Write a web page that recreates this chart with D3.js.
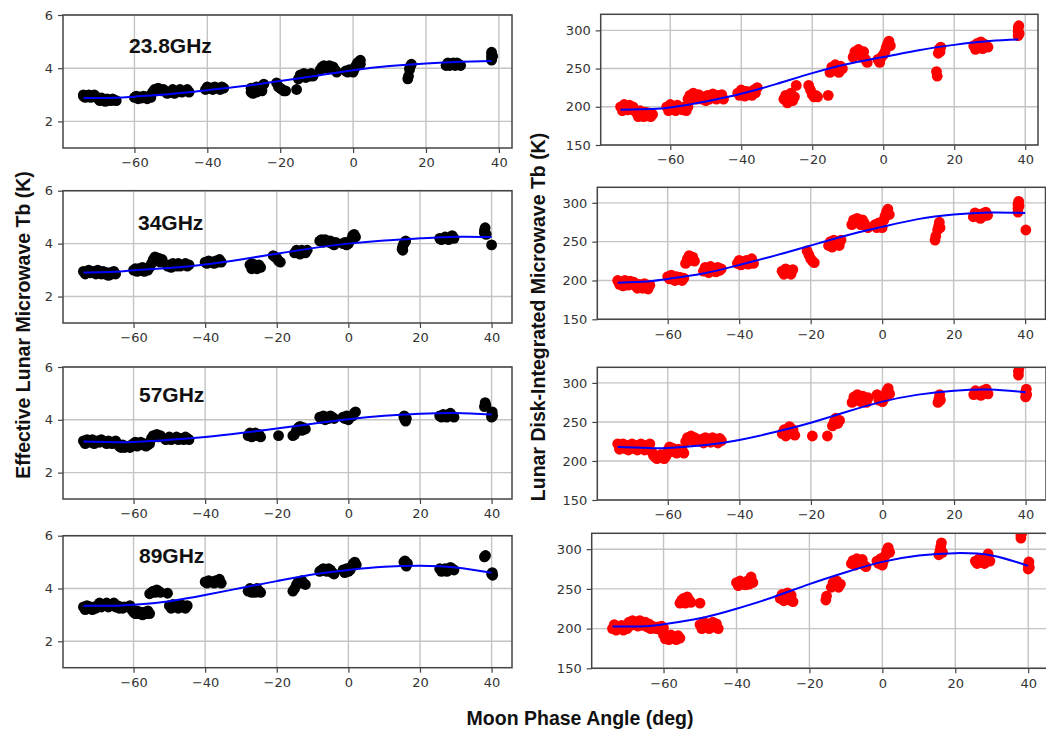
<!DOCTYPE html>
<html>
<head>
<meta charset="utf-8">
<script src="https://cdn.jsdelivr.net/npm/d3@7"></script>
<style>
  body { margin: 0; background: #fff; }
  text { font-family: "DejaVu Sans", sans-serif; }
</style>
</head>
<body>
<script>
let width = 1046, height = 733;

// tick values and labels
let phaseTicks = [-60, -40, -20, 0, 20, 40];
let effTicks = [2, 4, 6];
let diskTicks = [150, 200, 250, 300];
let freqs = ["23.8GHz", "34GHz", "57GHz", "89GHz"];

// effective lunar Tb (K), [phase angle, Tb]
let eff23 = [[-74,2.95],[-74,3.0],[-73.5,2.9],[-73,2.95],[-72.5,3.0],[-72,2.9],[-71.5,2.95],[-71,3.0],[-70.5,2.92],
  [-70,2.85],[-69.5,2.78],[-69,2.88],[-68.5,2.8],[-68,2.75],[-67.5,2.85],[-67,2.8],[-66.5,2.78],[-66,2.85],[-65.5,2.8],[-65,2.78],
  [-60,2.9],[-59.5,2.95],[-59,2.85],[-58.5,2.92],[-58,2.88],[-57.5,2.95],[-57,2.9],[-56.5,2.85],[-56,2.95],[-55.5,2.9],
  [-55,3.1],[-54.5,3.2],[-54,3.15],[-53.5,3.25],[-53,3.2],[-52.5,3.15],[-52,3.2],
  [-51,3.05],[-50,3.1],[-49.5,3.2],[-49,3.05],[-48,3.15],[-47.5,3.2],[-47,3.1],[-46,3.15],[-45.5,3.2],[-45,3.1],
  [-40.5,3.2],[-40,3.3],[-39,3.25],[-38.5,3.2],[-38,3.3],[-37,3.25],[-36.5,3.2],[-36,3.3],[-35.5,3.25],
  [-28,3.1],[-28,3.25],[-27.5,3.05],[-27,3.2],[-26.5,3.1],[-26.5,3.3],[-26,3.15],[-25.5,3.3],[-25,3.15],[-24.5,3.4],
  [-21,3.45],[-20.5,3.3],[-20,3.25],[-19.5,3.2],[-19,3.15],[-18.5,3.15],[-15.5,3.2],
  [-15,3.6],[-14.5,3.75],[-14,3.7],[-13.5,3.8],[-13,3.65],[-12.5,3.75],[-12,3.7],[-11.5,3.8],[-11,3.7],
  [-9,3.95],[-8.5,4.05],[-8,4.1],[-7.5,4.0],[-7,4.05],[-6.5,4.1],[-6,4.0],[-5.5,4.05],[-5,3.95],[-4.5,3.85],
  [-2,3.9],[-1.5,3.85],[-1,3.95],[-0.5,3.9],[0,3.85],[0.5,4.0],
  [0.8,4.1],[1.2,4.2],[1.6,4.25],[2,4.15],[2,4.3],
  [15,3.6],[15.2,3.7],[15.5,4.0],[15.8,4.1],[16,4.15],[15.5,3.95],
  [25.5,4.1],[26,4.2],[26.5,4.1],[27,4.15],[27.5,4.2],[28,4.1],[28.5,4.2],[29,4.15],[29.5,4.1],
  [38,4.3],[38,4.4],[38,4.5],[38,4.6],[38.3,4.45]];

let eff34 = [[-74,2.95],[-73.5,2.85],[-73,2.9],[-72.5,3.0],[-72,2.9],[-71,2.95],[-70.5,2.85],[-70,3.0],[-69.5,2.9],
  [-69,2.85],[-68.5,2.95],[-68,2.85],[-67.5,2.9],[-67,2.8],[-66.5,2.9],[-66,2.85],[-65.5,2.95],[-65,2.85],
  [-60,3.0],[-59.5,3.05],[-59,2.95],[-58.5,3.05],[-58,3.0],[-57.5,3.1],[-57,2.95],[-56.5,3.05],[-56,3.0],[-55.5,3.1],
  [-55,3.25],[-54.5,3.4],[-54,3.5],[-53.5,3.35],[-53,3.45],[-52.5,3.3],[-52,3.4],
  [-50.5,3.15],[-50,3.2],[-49.5,3.1],[-49,3.25],[-48,3.15],[-47.5,3.25],[-47,3.15],[-46,3.2],[-45.5,3.25],[-45,3.15],[-44.5,3.2],
  [-40,3.3],[-39.5,3.25],[-39,3.35],[-38,3.3],[-37.5,3.25],[-37,3.35],[-36.5,3.3],[-36,3.4],[-35.5,3.3],
  [-27.5,3.2],[-27,3.05],[-27,3.25],[-26.5,3.1],[-26,3.2],[-25.5,3.05],[-25,3.2],[-24.5,3.1],
  [-21,3.55],[-20.5,3.5],[-20,3.45],[-19.5,3.35],[-19,3.3],
  [-15,3.65],[-14.5,3.75],[-14,3.7],[-13.5,3.6],[-13,3.75],[-12.5,3.7],[-12,3.65],[-11.5,3.75],
  [-8,4.1],[-7.5,4.15],[-7,4.05],[-6.5,4.15],[-6,4.1],[-5.5,4.05],[-5,4.1],[-4.5,4.0],[-4,3.95],[-3.5,4.05],
  [-1.5,4.0],[-1,4.05],[-0.5,3.95],[0,4.0],
  [0.8,4.15],[1.2,4.3],[1.6,4.35],[2,4.25],
  [15,3.8],[15.2,3.9],[15.5,4.0],[15.8,4.05],[16,4.1],[15.2,3.75],
  [25.5,4.2],[26,4.15],[26.5,4.2],[27,4.25],[27.5,4.2],[28,4.15],[28.5,4.25],[29,4.3],[29.5,4.2],
  [38,4.4],[38,4.5],[38.2,4.6],[38.5,4.35],[40,3.95]];

let eff57 = [[-74,3.2],[-73.5,3.1],[-73,3.25],[-72,3.15],[-71.5,3.25],[-71,3.1],[-70,3.2],[-69.5,3.15],[-69,3.25],
  [-68,3.15],[-67.5,3.1],[-67,3.2],[-66.5,3.15],[-66,3.1],[-65,3.2],[-64.5,3.1],
  [-64,3.0],[-63.5,2.95],[-63,3.05],[-62.5,2.95],[-61.5,3.0],[-61,2.95],[-60.5,3.05],
  [-60,3.1],[-59.5,3.15],[-59,3.0],[-58.5,3.1],[-58,3.15],[-57.5,3.05],[-57,3.1],[-56.5,3.0],[-56,3.05],[-55.5,3.1],
  [-55,3.3],[-54.5,3.4],[-54,3.35],[-53.5,3.45],[-53,3.35],[-52.5,3.4],
  [-51,3.25],[-50,3.35],[-49.5,3.25],[-49,3.3],[-48,3.35],[-47.5,3.25],[-47,3.3],[-46,3.25],[-45.5,3.35],[-45,3.3],[-44.5,3.25],
  [-28,3.4],[-27.5,3.5],[-27,3.35],[-26.5,3.45],[-26,3.5],[-25.5,3.4],[-25,3.45],[-24.5,3.35],
  [-19.5,3.4],
  [-15.5,3.4],[-15,3.45],[-14.5,3.6],[-14,3.7],[-13.5,3.75],[-13,3.6],[-12.5,3.7],[-12,3.65],
  [-8,4.1],[-7.5,4.05],[-7,4.15],[-6.5,4.0],[-6,4.1],[-5.5,4.05],[-5,4.15],[-4.5,4.1],[-4,4.05],
  [-1.5,4.1],[-1,4.05],[-0.5,4.15],[0,4.0],[0.5,4.1],
  [1.2,4.15],[1.6,4.25],[2,4.3],
  [15.5,4.1],[15.8,4.0],[16,3.95],[16.2,4.05],[15.6,4.15],
  [25.5,4.15],[26,4.1],[26.5,4.2],[27,4.15],[27.5,4.1],[28,4.2],[28.5,4.25],[29,4.15],[29.5,4.1],
  [38,4.5],[38.2,4.65],[38.4,4.55],
  [40,4.1],[40,4.2],[40.2,4.3],[40.3,4.15]];

let eff89 = [[-74,3.3],[-73.5,3.2],[-73,3.35],[-72.5,3.25],[-72,3.3],[-71.5,3.2],[-71,3.3],[-70.5,3.25],
  [-70,3.35],[-69.5,3.45],[-69,3.3],[-68.5,3.4],[-68,3.35],[-67.5,3.45],[-67,3.3],[-66.5,3.4],[-66,3.35],[-65.5,3.45],
  [-65,3.3],[-64.5,3.35],[-64,3.25],[-63.5,3.3],[-63,3.25],[-62.5,3.3],
  [-61,3.35],[-60.5,3.2],[-60,3.1],[-59.5,3.05],[-59,3.15],[-58.5,3.05],[-58,3.1],[-57.5,3.0],[-57,3.1],[-56.5,3.05],[-56,3.15],[-55.5,3.05],
  [-55.5,3.8],[-55,3.85],[-54.5,3.9],[-54,3.85],[-53.5,3.95],[-53,3.9],[-52.5,3.85],[-50.5,3.82],
  [-50,3.35],[-49.5,3.25],[-49,3.4],[-48.5,3.3],[-48,3.35],[-47.5,3.25],[-47,3.4],[-46.5,3.3],[-46,3.35],[-45.5,3.25],[-45,3.35],
  [-40,4.25],[-39.5,4.2],[-39,4.3],[-38,4.25],[-37.5,4.2],[-37,4.3],[-36.5,4.25],[-36,4.35],[-35.5,4.2],
  [-28,3.9],[-27.5,4.0],[-27,3.85],[-26.5,3.95],[-26,3.85],[-25.5,4.0],[-25,3.9],[-24.5,3.85],
  [-15.5,3.9],[-15,4.0],[-14.5,4.15],[-14,4.25],[-13.5,4.2],[-13,4.3],[-12.5,4.2],[-12,4.15],
  [-8,4.65],[-7.5,4.7],[-7,4.75],[-6.5,4.7],[-6,4.65],[-5.5,4.75],[-5,4.7],[-4.5,4.6],[-4,4.55],
  [-1.5,4.7],[-1,4.6],[-0.5,4.75],[0,4.65],[0.5,4.7],
  [1,4.85],[1.4,4.95],[1.8,5.0],[2.2,4.9],
  [15.5,5.0],[15.8,5.05],[16,4.9],[16.2,4.85],[16.5,4.95],
  [25.5,4.75],[26,4.65],[26.5,4.7],[27,4.75],[27.5,4.65],[28,4.7],[28.5,4.8],[29,4.75],[29.5,4.7],
  [38,5.2],[38.3,5.25],
  [40,4.55],[40.2,4.6],[40.3,4.5]];

// fitted curves for effective Tb
let effFit23 = [[-74,2.88],[-65,2.89],[-60,2.93],[-50,3.03],[-40,3.17],[-30,3.33],[-20,3.52],[-10,3.72],[0,3.92],[10,4.08],[20,4.18],[30,4.24],[38,4.27]];
let effFit34 = [[-74,2.91],[-65,2.94],[-60,2.99],[-50,3.08],[-40,3.21],[-30,3.4],[-20,3.62],[-10,3.83],[0,4.0],[10,4.12],[20,4.2],[30,4.26],[40,4.25]];
let effFit57 = [[-74,3.18],[-65,3.15],[-60,3.16],[-50,3.24],[-40,3.35],[-30,3.5],[-20,3.67],[-10,3.85],[0,4.02],[10,4.15],[20,4.23],[30,4.26],[40,4.2]];
let effFit89 = [[-74,3.35],[-65,3.35],[-60,3.38],[-50,3.52],[-40,3.75],[-30,4.02],[-20,4.28],[-10,4.53],[0,4.7],[10,4.82],[20,4.86],[30,4.8],[40,4.6]];

// disk-integrated Tb (K), [phase angle, Tb]
let disk23 = [[-74,200],[-73.5,195],[-73,203],[-72.5,198],[-72,196],[-71.5,202],[-71,197],[-70.5,200],[-70,195],
  [-69.5,192],[-69,187],[-68.5,195],[-68,190],[-67.5,187],[-67,193],[-66.5,188],[-66,192],[-65.5,187],[-65,190],
  [-61,200],[-60.5,195],[-60,203],[-59.5,197],[-59,200],[-58.5,195],[-58,202],[-57,198],[-56.5,196],[-56,200],[-55.5,195],[-55,200],
  [-55,210],[-54.5,215],[-54,212],[-53.5,218],[-53,214],[-52.5,210],[-52,216],[-51.5,212],
  [-51,210],[-50.5,213],[-50,208],[-49.5,215],[-49,210],[-48.5,213],[-48,217],[-47.5,212],[-47,210],[-46.5,215],[-46,212],[-45.5,216],[-45,210],
  [-41,218],[-40.5,215],[-40,222],[-39.5,217],[-39,214],[-38.5,220],[-38,216],[-37.5,218],[-37,215],[-36.5,222],[-36,218],[-35.5,225],
  [-28,210],[-27.5,215],[-27,205],[-26.5,212],[-26,218],[-25.5,208],[-25,213],[-24.5,228],
  [-21,228],[-20.5,222],[-20,216],[-19.5,213],[-19,215],[-18.5,213],[-15.5,215],
  [-15,245],[-14.5,252],[-14,248],[-13.5,255],[-13,250],[-12.5,245],[-12,253],[-11.5,250],
  [-8.5,265],[-8,272],[-7.5,268],[-7,275],[-6.5,270],[-6,265],[-5.5,272],[-5,262],[-4.5,258],
  [-1.5,262],[-1,258],[-0.5,265],[0,268],
  [0.5,272],[0.8,277],[1.2,282],[1.6,286],[2,280],
  [15,246],[15.2,240],[15.5,270],[15.8,276],[16,272],[16.2,278],
  [25.5,280],[26,275],[26.5,283],[27,278],[27.5,285],[28,276],[28.5,282],[29,280],[29.5,278],
  [38,293],[38,298],[38,303],[38.2,306],[38.3,296]];

let disk34 = [[-74,200],[-73.5,195],[-73,198],[-72.5,193],[-72,200],[-71.5,196],[-71,194],[-70.5,199],[-70,196],
  [-69.5,198],[-69,193],[-68.5,190],[-68,195],[-67.5,192],[-67,190],[-66.5,196],[-66,192],[-65.5,189],[-65,194],
  [-60,205],[-59.5,202],[-59,207],[-58.5,203],[-58,200],[-57.5,205],[-57,202],[-56.5,204],[-56,200],[-55.5,203],
  [-55,222],[-54.5,228],[-54,232],[-53.5,226],[-53,230],[-52.5,225],
  [-50,212],[-49.5,217],[-49,214],[-48.5,210],[-48,218],[-47.5,213],[-47,215],[-46.5,211],[-46,217],[-45.5,213],[-45,215],
  [-40.5,222],[-40,226],[-39.5,220],[-39,224],[-38.5,222],[-38,226],[-37.5,221],[-37,225],[-36.5,228],[-36,222],
  [-28,212],[-27.5,208],[-27,215],[-26.5,210],[-26,213],[-25.5,208],[-25,214],
  [-21,238],[-20.5,233],[-20,228],[-19.5,225],[-19,223],
  [-15,245],[-14.5,250],[-14,243],[-13.5,252],[-13,247],[-12.5,250],[-12,245],[-11.5,252],
  [-8.5,272],[-8,278],[-7.5,275],[-7,280],[-6.5,276],[-6,272],[-5.5,278],[-5,274],[-4.5,270],[-4,268],
  [-2,272],[-1.5,268],[-1,274],[-0.5,270],[0,268],
  [0.5,278],[0.8,283],[1.2,288],[1.6,292],[2,285],
  [14.8,252],[15,257],[15.5,265],[15.8,270],[16,275],[16.2,268],
  [25.5,282],[26,287],[26.5,283],[27,285],[27.5,280],[28,286],[28.5,283],[29,288],[29.5,284],
  [38,288],[38,293],[38,298],[38.2,302],[38.3,296],[40.2,265]];

let disk57 = [[-74,222],[-73.5,215],[-73,218],[-72.5,222],[-72,216],[-71.5,220],[-71,214],[-70.5,218],[-70,222],
  [-69.5,216],[-69,220],[-68.5,214],[-68,218],[-67.5,222],[-67,216],[-66.5,214],[-66,220],[-65.5,218],[-65,222],
  [-64.5,212],[-64,207],[-63.5,205],[-63,203],[-62,208],[-61.5,204],[-61,203],[-60.5,206],
  [-60,214],[-59.5,218],[-59,212],[-58.5,216],[-58,214],[-57.5,210],[-57,215],[-56.5,212],[-56,214],[-55.5,210],
  [-55,225],[-54.5,230],[-54,228],[-53.5,232],[-53,226],[-52.5,230],
  [-51,225],[-50.5,228],[-50,223],[-49.5,230],[-49,226],[-48.5,228],[-48,224],[-47.5,230],[-47,226],[-46.5,228],[-46,223],[-45.5,229],[-45,226],
  [-28,235],[-27.5,240],[-27,232],[-26.5,238],[-26,244],[-25.5,235],[-25,240],[-24.5,233],
  [-19.6,232],[-15.4,232],
  [-14,245],[-13.5,250],[-13,255],[-12.5,248],[-12,252],
  [-8.5,275],[-8,282],[-7.5,278],[-7,285],[-6.5,280],[-6,276],[-5.5,283],[-5,279],[-4.5,275],[-4,281],
  [-1.5,285],[-1,278],[-0.5,282],[0,276],
  [0.5,280],[0.8,284],[1.2,290],[1.6,293],[2,286],
  [15.5,275],[15.8,280],[16,285],[16.2,278],
  [25.5,285],[26,290],[26.5,286],[27,288],[27.5,284],[28,290],[28.5,287],[29,292],[29.5,286],
  [38,310],[38,315],[38.2,320],
  [40,282],[40,288],[40.2,292],[40.3,285]];

let disk89 = [[-74,200],[-73.5,205],[-73,198],[-72.5,202],[-72,200],[-71.5,204],[-71,198],[-70.5,202],[-70,200],
  [-69.5,208],[-69,204],[-68.5,210],[-68,205],[-67.5,208],[-67,203],[-66.5,210],[-66,206],[-65.5,204],[-65,208],
  [-64.5,202],[-64,206],[-63.5,200],[-63,203],
  [-62,200],[-61.5,202],[-61,199],[-60.5,203],[-60,201],
  [-60,192],[-59.5,187],[-59,190],[-58.5,186],[-58,192],[-57.5,188],[-57,190],[-56.5,186],[-56,191],[-55.5,188],
  [-55.5,232],[-55,236],[-54.5,238],[-54,232],[-53.5,240],[-53,236],[-52.5,233],[-50,232],
  [-50,205],[-49.5,200],[-49,208],[-48.5,202],[-48,206],[-47.5,200],[-47,204],[-46.5,208],[-46,202],[-45.5,206],[-45,200],
  [-40,258],[-39.5,254],[-39,260],[-38.5,256],[-38,258],[-37.5,255],[-37,260],[-36.5,256],[-36,262],[-36,265],[-35.5,258],
  [-28,238],[-27.5,243],[-27,235],[-26.5,240],[-26,245],[-25.5,236],[-25,242],[-24.5,234],
  [-15.5,236],[-15.3,241],
  [-14,252],[-13.5,258],[-13,255],[-12.5,260],[-12,252],[-11.5,256],
  [-8.5,282],[-8,286],[-7.5,280],[-7,288],[-6.5,284],[-6,282],[-5.5,287],[-5,280],[-4.5,278],
  [-1.5,285],[-1,282],[-0.5,288],[0,280],[0.3,285],
  [0.8,292],[1.2,298],[1.6,302],[2,296],
  [15.5,293],[15.8,298],[16,303],[16.2,308],[16.5,296],
  [25.5,285],[26,282],[26.5,288],[27,284],[27.5,286],[28,282],[28.5,290],[29,294],[29.5,285],
  [38,314],[38,318],[38.2,320],
  [40,275],[40,280],[40.2,284],[40.3,277]];

// fitted curves for disk-integrated Tb
let diskFit23 = [[-74,196],[-65,197],[-60,199],[-50,207],[-40,217],[-30,230],[-20,244],[-10,256],[0,265],[10,274],[20,281],[30,286],[38,288]];
let diskFit34 = [[-74,197],[-65,199],[-60,202],[-50,209],[-40,220],[-30,232],[-20,245],[-10,258],[0,269],[10,279],[20,285],[30,287.5],[40,287]];
let diskFit57 = [[-74,218],[-65,216.5],[-60,216.5],[-50,220],[-40,227],[-30,237],[-20,249],[-10,263],[0,276],[10,285],[20,290],[30,291.5],[40,288]];
let diskFit89 = [[-74,202.5],[-65,203],[-60,205.5],[-50,213],[-40,225],[-30,239.5],[-20,256],[-10,271],[0,284],[10,292],[20,295],[30,292],[40,279]];

let svg = d3.select("body").append("svg")
    .attr("width", width)
    .attr("height", height)
    .style("background", "#fff");

// panel boxes (pixels), left column = effective Tb, right column = disk-integrated
let panels = [
  {pts: eff23, fit: effFit23, color: "#000", box: [63, 512, 15, 148], xd: [-79.6, 43.6], yd: [1, 6], yt: effTicks, label: freqs[0], lx: 129, ly: 53},
  {pts: eff34, fit: effFit34, color: "#000", box: [63, 512, 190.7, 323], xd: [-79.7, 45.7], yd: [1, 6], yt: effTicks, label: freqs[1], lx: 138, ly: 230},
  {pts: eff57, fit: effFit57, color: "#000", box: [63, 512, 367, 499], xd: [-79.7, 45.7], yd: [1, 6], yt: effTicks, label: freqs[2], lx: 139, ly: 402},
  {pts: eff89, fit: effFit89, color: "#000", box: [63, 512, 535.7, 667.7], xd: [-79.7, 45.7], yd: [1, 6], yt: effTicks, label: freqs[3], lx: 139, ly: 563},
  {pts: disk23, fit: diskFit23, color: "#ff0000", box: [600.7, 1038, 14.3, 145], xd: [-79.6, 43.6], yd: [150, 321], yt: diskTicks},
  {pts: disk34, fit: diskFit34, color: "#ff0000", box: [597.3, 1045.5, 187.3, 319.3], xd: [-79.7, 45.7], yd: [150, 320], yt: diskTicks},
  {pts: disk57, fit: diskFit57, color: "#ff0000", box: [597.3, 1046, 367.3, 500], xd: [-79.7, 45.7], yd: [150, 320], yt: diskTicks},
  {pts: disk89, fit: diskFit89, color: "#ff0000", box: [591.7, 1049, 533.3, 668.3], xd: [-79.7, 45.7], yd: [150, 320], yt: diskTicks}
];

panels.forEach(function(p, i) {
  let [x0, x1, y0, y1] = p.box;
  let x = d3.scaleLinear().domain(p.xd).range([x0, x1]);
  let y = d3.scaleLinear().domain(p.yd).range([y1, y0]);

  let g = svg.append("g");

  g.append("clipPath").attr("id", "clip" + i)
    .append("rect").attr("x", x0).attr("y", y0).attr("width", x1 - x0).attr("height", y1 - y0);

  // grid
  g.selectAll(".vgrid").data(phaseTicks).enter().append("line")
    .attr("x1", d => x(d)).attr("x2", d => x(d))
    .attr("y1", y0).attr("y2", y1)
    .attr("stroke", "#c4c4c4").attr("stroke-width", 1.4);
  g.selectAll(".hgrid").data(p.yt).enter().append("line")
    .attr("x1", x0).attr("x2", x1)
    .attr("y1", d => y(d)).attr("y2", d => y(d))
    .attr("stroke", "#c4c4c4").attr("stroke-width", 1.4);

  // axes
  let xa = g.append("g").attr("transform", "translate(0," + y1 + ")")
    .call(d3.axisBottom(x).tickValues(phaseTicks).tickFormat(d3.format("d")).tickSize(5).tickPadding(5));
  let ya = g.append("g").attr("transform", "translate(" + x0 + ",0)")
    .call(d3.axisLeft(y).tickValues(p.yt).tickFormat(d3.format("d")).tickSize(5).tickPadding(5));
  [xa, ya].forEach(function(a) {
    a.select(".domain").remove();
    a.selectAll("line").attr("stroke", "#444").attr("stroke-width", 1.2);
    a.selectAll("text").attr("fill", "#333").style("font-size", "13px").style("font-family", "DejaVu Sans, sans-serif");
  });

  // data
  let plot = g.append("g").attr("clip-path", "url(#clip" + i + ")");
  plot.selectAll("circle").data(p.pts).enter().append("circle")
    .attr("cx", d => x(d[0])).attr("cy", d => y(d[1]))
    .attr("r", 5.4)
    .attr("fill", p.color);

  let line = d3.line().x(d => x(d[0])).y(d => y(d[1])).curve(d3.curveNatural);
  plot.append("path").datum(p.fit)
    .attr("d", line)
    .attr("fill", "none")
    .attr("stroke", "#0000ff")
    .attr("stroke-width", 2);

  // frame
  g.append("rect")
    .attr("x", x0).attr("y", y0).attr("width", x1 - x0).attr("height", y1 - y0)
    .attr("fill", "none").attr("stroke", "#444").attr("stroke-width", 1.5);

  if (p.label) {
    g.append("text")
      .attr("x", p.lx).attr("y", p.ly)
      .style("font-family", "Liberation Sans, Arial, sans-serif")
      .style("font-weight", "bold")
      .style("font-size", "21px")
      .attr("fill", "#111")
      .text(p.label);
  }
});

// axis titles
function title(txt, tx, ty, rot) {
  svg.append("text")
    .attr("transform", "translate(" + tx + "," + ty + ") rotate(" + rot + ")")
    .attr("text-anchor", "middle")
    .style("font-family", "Liberation Sans, Arial, sans-serif")
    .style("font-weight", "bold")
    .style("font-size", "19.5px")
    .attr("fill", "#111")
    .text(txt);
}
title("Effective Lunar Microwave Tb (K)", 30, 325, -90);
title("Lunar Disk-Integrated Microwave Tb (K)", 545, 317, -90);
title("Moon Phase Angle (deg)", 580, 725, 0);
</script>
</body>
</html>
